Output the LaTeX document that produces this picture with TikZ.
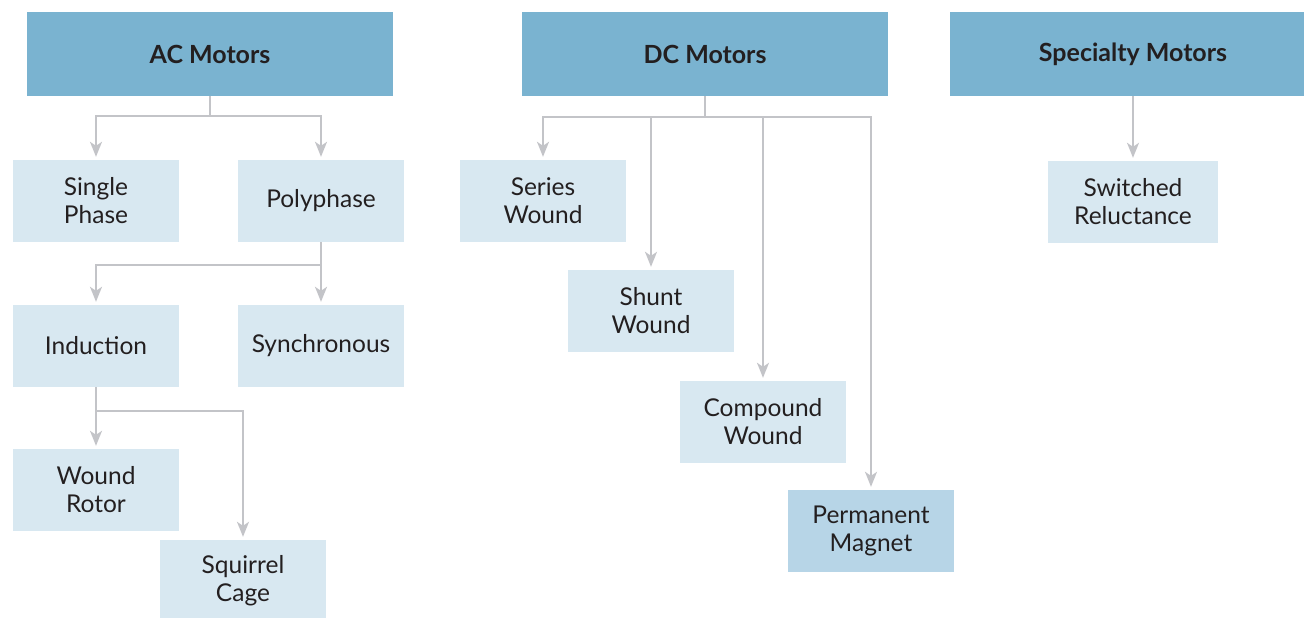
\documentclass[tikz,border=0pt]{standalone}
\usepackage{fontspec}
\setmainfont{Lato}
\usetikzlibrary{arrows.meta}

\definecolor{headblue}{HTML}{7AB3D0}
\definecolor{leafblue}{HTML}{D8E8F1}
\definecolor{magblue}{HTML}{B7D5E7}
\definecolor{linegray}{HTML}{C3C4C8}
\definecolor{inkdark}{HTML}{231F20}

\begin{document}
\begin{tikzpicture}[x=1pt,y=-1pt,>={Stealth[length=15pt,width=12pt,inset=4pt]},shorten >=3pt,
    head/.style={fill=headblue,minimum width=366pt,minimum height=84pt,inner sep=0pt,text=inkdark,font=\fontsize{25}{29}\selectfont\bfseries},
    leaf/.style={fill=leafblue,minimum width=166pt,minimum height=82pt,inner sep=0pt,align=center,text=inkdark,font=\fontsize{24.5}{28}\selectfont},
    link/.style={draw=linegray,line width=1.6pt,->}]

        \useasboundingbox (0,0) rectangle (1304,618);

        % top row
        \node[head] (AC)   at (210,54)  {AC Motors};
        \node[head] (DC)   at (705,54)  {DC Motors};
        \node[head] (Spec) at (1133,54) {Specialty Motors};

        % ac branch
        \node[leaf] (Single)  at (96,201)  {Single\\Phase};
        \node[leaf] (Poly)    at (321,201) {Polyphase};
        \node[leaf] (Ind)     at (96,346)  {Induction};
        \node[leaf] (Sync)    at (321,346) {Synchronous};
        \node[leaf] (Rotor)   at (96,490)  {Wound\\Rotor};
        \node[leaf] (Cage)    at (243,581) {Squirrel\\Cage};

        % dc branch
        \node[leaf] (Series)   at (543,201) {Series\\Wound};
        \node[leaf] (Shunt)    at (651,311) {Shunt\\Wound};
        \node[leaf] (Compound) at (763,422) {Compound\\Wound};
        \node[leaf,fill=magblue] (Magnet) at (871,531) {Permanent\\Magnet};

        % specialty branch
        \node[leaf,minimum width=170pt] (Switch) at (1133,202) {Switched\\Reluctance};

        \draw[link] (AC.south) -- ++(0,20) -| (Single.north);
        \draw[link] (AC.south) -- ++(0,20) -| (Poly.north);
        \draw[link] (Poly.south) -- ++(0,23) -| (Ind.north);
        \draw[link] (Poly.south) -- (Sync.north);
        \draw[link] (Ind.south) -- (Rotor.north);
        \draw[link] (Ind.south) -- ++(0,24) -| (Cage.north);

        \foreach \k in {Series,Shunt,Compound,Magnet}
            \draw[link] (DC.south) -- ++(0,21) -| (\k.north);

        \draw[link] (Spec.south) -- (Switch.north);

\end{tikzpicture}
\end{document}
